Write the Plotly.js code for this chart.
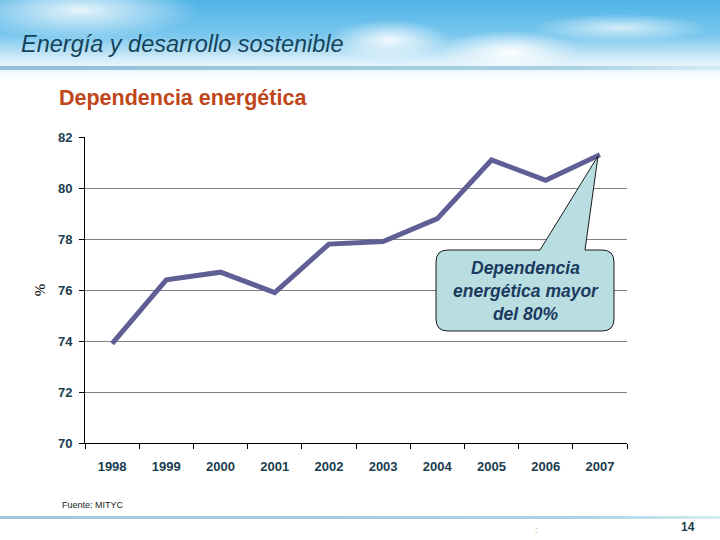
<!DOCTYPE html>
<html>
<head>
<meta charset="utf-8">
<script src="https://cdn.plot.ly/plotly-3.0.1.min.js"></script>
<style>
html,body{margin:0;padding:0;}
body{width:720px;height:540px;position:relative;overflow:hidden;background:#ffffff;}
#sky{position:absolute;left:0;top:0;width:720px;height:80px;
 background:
  radial-gradient(ellipse 70px 22px at 510px 52px, rgba(255,255,255,0.95), rgba(255,255,255,0) 100%),
  radial-gradient(ellipse 60px 20px at 390px 40px, rgba(255,255,255,0.9), rgba(255,255,255,0) 100%),
  radial-gradient(ellipse 90px 14px at 620px 28px, rgba(255,255,255,0.7), rgba(255,255,255,0) 100%),
  radial-gradient(ellipse 120px 30px at 80px 10px, rgba(255,255,255,0.85), rgba(255,255,255,0) 100%),
  linear-gradient(to bottom, #4fb3e6 0%, #7cc8ee 45%, #d8eef9 75%, #ffffff 100%);}
#bar1{position:absolute;left:0;top:66px;width:720px;height:4px;background:linear-gradient(to right,#8fc0d6,#a9d2e3 80%,#d6ecf4);}
#bar2{position:absolute;left:0;top:516px;width:720px;height:3px;background:linear-gradient(to right,#9fc8db,#a9d2e3 80%,#d6ecf4);}
#chart{position:absolute;left:0;top:0;width:720px;height:540px;}
</style>
</head>
<body>
<div id="sky"></div>
<div id="bar1"></div>
<div id="bar2"></div>
<div id="chart"></div>
<script>
const years = ['1998','1999','2000','2001','2002','2003','2004','2005','2006','2007'];
const dependencia = [73.9, 76.4, 76.7, 75.9, 77.8, 77.9, 78.8, 81.1, 80.3, 81.3];
const yTicks = [70, 72, 74, 76, 78, 80, 82];

const L = 85, T = 137, W = 542, H = 306;
function px(x){return (x - L) / W;}
function py(y){return (T + H - y) / H;}

// callout box (rounded) with pointer
const bx0 = 436, bx1 = 614, by0 = 250, by1 = 331, r = 12;
const p1 = 540, p2 = 585, tipX = 598, tipY = 156;
const f = (x,y)=> px(x).toFixed(4)+','+py(y).toFixed(4);
const calloutPath =
 'M'+f(bx0+r,by0)+' L'+f(p1,by0)+' L'+f(tipX,tipY)+' L'+f(p2,by0)+' L'+f(bx1-r,by0)+
 ' Q'+f(bx1,by0)+' '+f(bx1,by0+r)+' L'+f(bx1,by1-r)+' Q'+f(bx1,by1)+' '+f(bx1-r,by1)+
 ' L'+f(bx0+r,by1)+' Q'+f(bx0,by1)+' '+f(bx0,by1-r)+' L'+f(bx0,by0+r)+' Q'+f(bx0,by0)+' '+f(bx0+r,by0)+' Z';

const trace = {
  x: years, y: dependencia, type: 'scatter', mode: 'lines',
  line: {color: '#5f5f96', width: 5},
  hoverinfo: 'skip'
};

const tickFont = {size: 13, color: '#1a3d4f', family: 'Arial, Liberation Sans, sans-serif', weight: 'bold'};

const layout = {
  width: 720, height: 540,
  margin: {l: L, r: 720 - L - W, t: T, b: 540 - T - H},
  paper_bgcolor: 'rgba(0,0,0,0)', plot_bgcolor: 'rgba(0,0,0,0)',
  showlegend: false,
  font: {family: 'Arial, Liberation Sans, sans-serif'},
  xaxis: {
    type: 'category', tickvals: years, ticktext: years, range: [-0.5, 9.5],
    showgrid: false, showline: true, linecolor: '#000000', linewidth: 1,
    ticks: 'outside', ticklen: 5, tickcolor: '#000000', tickson: 'boundaries',
    tickfont: tickFont,
    ticklabelstandoff: 11,
    zeroline: false, fixedrange: true
  },
  yaxis: {
    range: [70, 82], tickvals: yTicks, ticktext: yTicks.map(String),
    showgrid: true, gridcolor: '#808080', gridwidth: 1,
    showline: true, linecolor: '#000000', linewidth: 1,
    ticks: 'outside', ticklen: 5, tickcolor: '#000000',
    tickfont: tickFont,
    ticklabelstandoff: 4,
    title: {text: '%', font: {size: 15, color: '#000000', family: 'Times New Roman, Liberation Serif, serif'}, standoff: 8},
    zeroline: false, fixedrange: true
  },
  shapes: [
    {type: 'path', xref: 'paper', yref: 'paper', path: calloutPath,
     fillcolor: '#b8dee2', line: {color: '#1a1a1a', width: 1}, layer: 'above'}
  ],
  annotations: [
    {text: '<i>Energía y desarrollo sostenible</i>', xref: 'paper', yref: 'paper',
     x: px(19), y: py(44), xanchor: 'left', yanchor: 'middle', showarrow: false,
     font: {size: 23.5, color: '#14435a', family: 'Arial, Liberation Sans, sans-serif'}},
    {text: '<b>Dependencia energética</b>', xref: 'paper', yref: 'paper',
     x: px(57), y: py(98), xanchor: 'left', yanchor: 'middle', showarrow: false,
     font: {size: 21.5, color: '#c0461a', family: 'Arial, Liberation Sans, sans-serif'}},
    {text: '<b><i>Dependencia<br>energética mayor<br>del 80%</i></b>', xref: 'paper', yref: 'paper',
     x: px(526), y: py(291), xanchor: 'center', yanchor: 'middle', showarrow: false, align: 'center',
     font: {size: 17.5, color: '#1b3a5e', family: 'Arial, Liberation Sans, sans-serif'}},
    {text: 'Fuente: MITYC', xref: 'paper', yref: 'paper',
     x: px(60), y: py(505), xanchor: 'left', yanchor: 'middle', showarrow: false,
     font: {size: 9, color: '#222222', family: 'Arial, Liberation Sans, sans-serif'}},
    {text: '<b>14</b>', xref: 'paper', yref: 'paper',
     x: px(697), y: py(527), xanchor: 'right', yanchor: 'middle', showarrow: false,
     font: {size: 12, color: '#1a3d4f', family: 'Arial, Liberation Sans, sans-serif'}},
    {text: ':', xref: 'paper', yref: 'paper',
     x: px(536), y: py(530), xanchor: 'center', yanchor: 'middle', showarrow: false,
     font: {size: 9, color: '#d0a060', family: 'Arial, Liberation Sans, sans-serif'}}
  ]
};

Plotly.newPlot('chart', [trace], layout, {staticPlot: true, displayModeBar: false});
</script>
</body>
</html>
